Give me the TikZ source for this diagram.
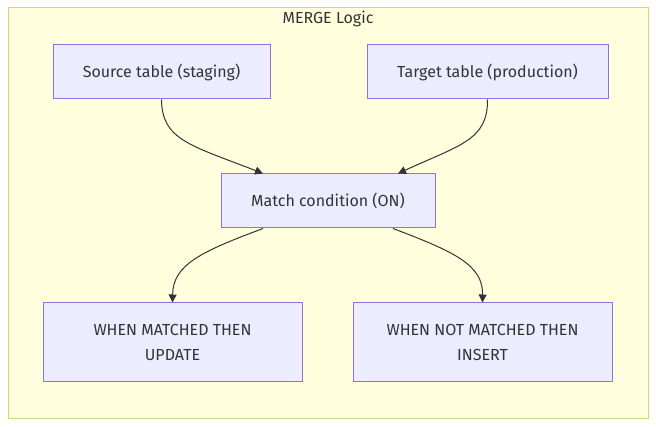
\documentclass[tikz,border=0pt]{standalone}
\usepackage{fontspec}
\setmainfont{Fira Sans}
\usetikzlibrary{arrows.meta}
\definecolor{clfill}{HTML}{FFFFDE}
\definecolor{cldraw}{HTML}{D4D47A}
\definecolor{nfill}{HTML}{ECECFF}
\definecolor{ndraw}{HTML}{9370DB}
\definecolor{txt}{HTML}{333333}
\tikzset{
  box/.style={draw=ndraw, fill=nfill, line width=0.75pt, text=txt, align=center,
    font=\fontsize{12}{18.75}\selectfont, inner sep=0pt},
  edge/.style={draw=txt, line width=0.75pt, -{Triangle[length=6pt,width=6pt]}},
}
\begin{document}
\begin{tikzpicture}[x=0.75pt,y=-0.75pt]
\useasboundingbox (0,0) rectangle (656,427);
\node[draw=cldraw, fill=clfill, line width=0.75pt, minimum width=480pt, minimum height=307.5pt, inner sep=0pt] (cl) at (328,213) {};
\node[text=txt, font=\fontsize{12}{14}\selectfont] (title) at (328,19) {MERGE Logic};
\node[box, minimum width=162.75pt, minimum height=40.5pt] (src) at (161.5,72) {Source table (staging)};
\node[box, minimum width=180.75pt, minimum height=40.5pt] (tgt) at (487.5,72) {Target table (production)};
\node[box, minimum width=160.5pt, minimum height=40.5pt] (match) at (328,201) {Match condition (ON)};
\node[box, minimum width=194.25pt, minimum height=58.5pt] (upd) at (172.5,342) {WHEN MATCHED THEN\\UPDATE};
\node[box, minimum width=194.25pt, minimum height=58.5pt] (ins) at (482.5,342) {WHEN NOT MATCHED THEN\\INSERT};
\coordinate (s0) at (src.south);
\coordinate (t0) at (tgt.south);
\coordinate (m1) at ([xshift=-48.75pt]match.north);
\coordinate (m2) at ([xshift=52.5pt]match.north);
\coordinate (m3) at ([xshift=-48.75pt]match.south);
\coordinate (m4) at ([xshift=48.75pt]match.south);
\draw[edge] (s0) .. controls (162,140) and (190,145) .. (m1);
\draw[edge] (t0) .. controls (488,140) and (460,145) .. (m2);
\draw[edge] (m3) .. controls (200,252) and (173,265) .. (upd.north);
\draw[edge] (m4) .. controls (455,252) and (483,265) .. (ins.north);
\end{tikzpicture}
\end{document}
